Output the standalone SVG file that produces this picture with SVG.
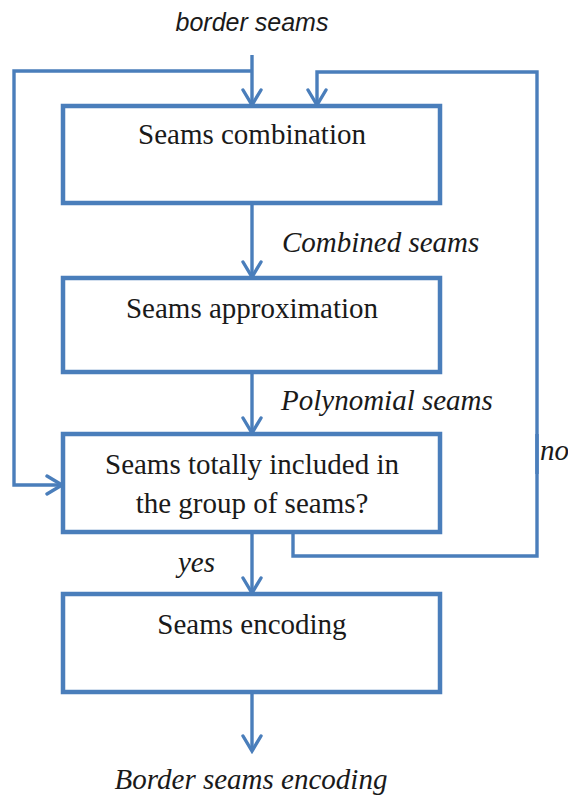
<svg xmlns="http://www.w3.org/2000/svg" width="568" height="798" viewBox="0 0 568 798">
  <defs>
    <marker id="arrow" viewBox="0 0 20 22" refX="17" refY="11" markerWidth="20" markerHeight="22" markerUnits="userSpaceOnUse" orient="auto">
      <path d="M2,2 L17,11 L2,20" fill="none" stroke="#4a7ebb" stroke-width="3.4" stroke-linecap="round" stroke-linejoin="miter"/>
    </marker>
    <style>
      .box { fill: #ffffff; stroke: #4a7ebb; stroke-width: 4.5; }
      .line { fill: none; stroke: #4a7ebb; stroke-width: 3.4; }
      .label { font-family: "Liberation Serif", "Times New Roman", serif; font-size: 29px; fill: #1a1a1a; text-anchor: middle; }
      .note { font-family: "Liberation Serif", "Times New Roman", serif; font-size: 29px; font-style: italic; fill: #1a1a1a; }
      .sans { font-family: "Liberation Sans", Arial, sans-serif; font-size: 25px; font-style: italic; fill: #1a1a1a; }
    </style>
  </defs>
  <rect width="568" height="798" fill="#ffffff"/>

  <text class="sans" x="252" y="31" text-anchor="middle">border seams</text>

  <g id="connectors">
    <!-- input and left loop -->
    <path class="line" d="M252,55 V105" marker-end="url(#arrow)"/>
    <path class="line" d="M252,71 H14 V485 H62" marker-end="url(#arrow)"/>
    <!-- main flow -->
    <path class="line" d="M252,205 V277" marker-end="url(#arrow)"/>
    <path class="line" d="M252,374 V433" marker-end="url(#arrow)"/>
    <path class="line" d="M252,534 V593" marker-end="url(#arrow)"/>
    <path class="line" d="M252,694 V751" marker-end="url(#arrow)"/>
    <!-- "no" loop back to the top -->
    <path class="line" d="M293,534 V556 H537 V72 H317 V105" marker-end="url(#arrow)"/>
    <path class="line" d="M537,434 V474" stroke-width="5"/>
  </g>

  <g id="combination">
    <rect class="box" x="63" y="106" width="377" height="97"/>
    <text class="label" x="252" y="144">Seams combination</text>
  </g>
  <text class="note" x="282" y="252">Combined seams</text>

  <g id="approximation">
    <rect class="box" x="63" y="278" width="377" height="94"/>
    <text class="label" x="252" y="318">Seams approximation</text>
  </g>
  <text class="note" x="281" y="410">Polynomial seams</text>

  <g id="decision">
    <rect class="box" x="63" y="434" width="377" height="98"/>
    <text class="label" x="252" y="474">Seams totally included in</text>
    <text class="label" x="252" y="513">the group of seams?</text>
  </g>
  <text class="note" x="540" y="460">no</text>
  <text class="note" x="178" y="572">yes</text>

  <g id="encoding">
    <rect class="box" x="63" y="594" width="377" height="98"/>
    <text class="label" x="252" y="634">Seams encoding</text>
  </g>

  <text class="note" x="251" y="789" text-anchor="middle">Border seams encoding</text>
</svg>
